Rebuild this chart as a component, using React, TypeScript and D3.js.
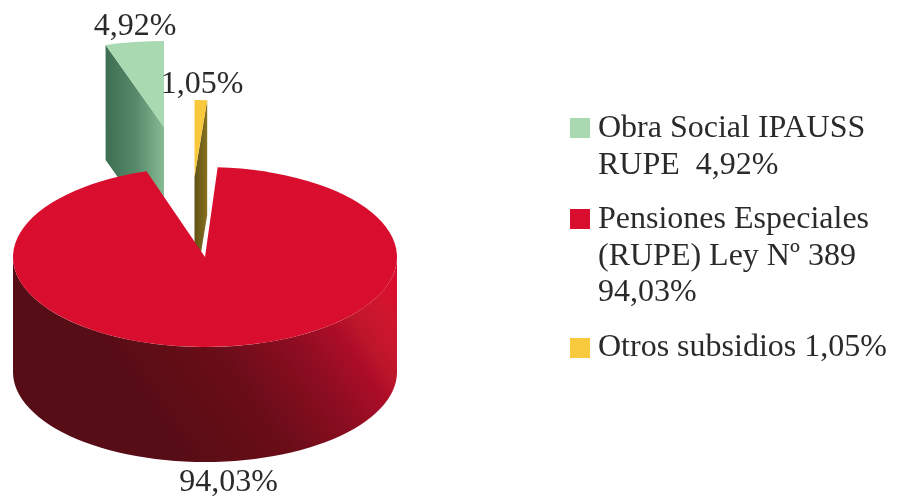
import React from "react";
import * as d3 from "d3";

const categories = ["Obra Social IPAUSS RUPE", "Pensiones Especiales (RUPE) Ley Nº 389", "Otros subsidios"];
const values = [4.92, 94.03, 1.05];
const valueLabels = ["4,92%", "94,03%", "1,05%"];
const legendLines = [
  ["Obra Social IPAUSS", "RUPE  4,92%"],
  ["Pensiones Especiales", "(RUPE) Ley Nº 389", "94,03%"],
  ["Otros subsidios 1,05%"],
];
const topColors = ["#a9d9b1", "#d9112f", "#f9c93e"];

const W = 899, H = 497;
const R = 192, RY = 90, DEPTH = 115;
const CX = 205, CY = 257;
const FONT = "'Liberation Serif', 'Times New Roman', serif";

const rad = (d: number) => (d * Math.PI) / 180;
const pie = d3.pie<number>().sort(null).startAngle(0).endAngle(-2 * Math.PI);
const slices = pie(values);
const arc = d3.arc<any>().innerRadius(0).outerRadius(R);
const yScale = (ry: number) => d3.scaleLinear().domain([-R, R]).range([-ry, ry]);

function arcPath(a0: number, a1: number, cx: number, cy: number, ry: number) {
  const s = yScale(ry);
  const n = 60;
  const pts = d3.range(n + 1).map((i) => {
    const a = a0 + ((a1 - a0) * i) / n;
    return [cx + R * Math.sin(a), cy + s(-R * Math.cos(a))] as [number, number];
  });
  return pts;
}

export default function App() {
  const line = d3.line();
  const [green, red, yellow] = slices;

  const gCx = 164, gCy = 127, gRy = 86;
  const gArc = arcPath(green.startAngle, green.endAngle, gCx, gCy, gRy);
  const gLeft = gArc[gArc.length - 1];
  const gSide: [number, number][] = [
    gLeft, [gCx, gCy], [gCx, gCy + DEPTH], [gLeft[0], gLeft[1] + DEPTH],
  ];

  const yCx = 194.5, yCy = 177, yRy = 77;
  const yStart = yellow.endAngle + 2 * Math.PI;
  const yEnd = yellow.startAngle + 2 * Math.PI;
  const yArc = arcPath(yStart, yEnd, yCx, yCy, yRy);
  const yRight = yArc[yArc.length - 1];
  const ySide: [number, number][] = [
    yRight, [yCx, yCy], [yCx, yCy + DEPTH], [yRight[0], yRight[1] + DEPTH],
  ];

  const frontTop = arcPath(rad(90), rad(270), CX, CY, RY);
  const frontBottom = arcPath(rad(90), rad(270), CX, CY + DEPTH, RY).reverse();
  const redSide = line([...frontTop, ...frontBottom]) + "Z";

  return (
    <svg width={W} height={H} viewBox={`0 0 ${W} ${H}`}
      style={{ position: "absolute", left: 0, top: 0, background: "#fff" }}>
      <defs>
        <filter id="soft" x="-5%" y="-5%" width="110%" height="110%">
          <feGaussianBlur stdDeviation="0.55" />
        </filter>
        <linearGradient id="gs" gradientUnits="userSpaceOnUse" x1={107} y1={0} x2={164} y2={0}>
          <stop offset="0" stopColor="#3f6f52" />
          <stop offset="0.5" stopColor="#56896a" />
          <stop offset="1" stopColor="#86bb94" />
        </linearGradient>
        <linearGradient id="ys" gradientUnits="userSpaceOnUse" x1={194} y1={0} x2={207} y2={0}>
          <stop offset="0" stopColor="#5f5015" />
          <stop offset="1" stopColor="#86711f" />
        </linearGradient>
        <linearGradient id="rs" gradientUnits="userSpaceOnUse" x1={170} y1={450} x2={397} y2={290}>
          <stop offset="0" stopColor="#560814" />
          <stop offset="0.35" stopColor="#6a0a19" />
          <stop offset="0.6" stopColor="#8f0e22" />
          <stop offset="0.85" stopColor="#c5132d" />
          <stop offset="1" stopColor="#d9112f" />
        </linearGradient>
      </defs>

      <g filter="url(#soft)">
        <path d={line(gSide) + "Z"} fill="url(#gs)" />
        <path d={arc(green) as string} fill={topColors[0]}
          transform={`translate(${gCx},${gCy}) scale(1,${gRy / R})`} />

        <path d={line(ySide) + "Z"} fill="url(#ys)" />
        <path d={arc({ startAngle: yStart, endAngle: yEnd }) as string} fill={topColors[2]}
          transform={`translate(${yCx},${yCy}) scale(1,${yRy / R})`} />

        <path d={redSide} fill="url(#rs)" />
        <path d={arc(red) as string} fill={topColors[1]}
          transform={`translate(${CX},${CY}) scale(1,${RY / R})`} />

        <g fontFamily={FONT} fontSize={32} fill="#2b2b2b">
          <text x={135} y={35} textAnchor="middle">{valueLabels[0]}</text>
          <text x={228.5} y={491} textAnchor="middle">{valueLabels[1]}</text>
          <text x={202} y={93} textAnchor="middle">{valueLabels[2]}</text>
        </g>

        <g fontFamily={FONT} fontSize={32} fill="#2b2b2b">
          {legendLines.map((lines, i) => {
            const swatchY = [118, 209, 338][i];
            const baseY = [137, 228, 356][i];
            return (
              <g key={categories[i]}>
                <rect x={570} y={swatchY} width={20} height={20} fill={topColors[i]} />
                {lines.map((t, j) => (
                  <text key={j} x={598} y={baseY + j * 36.5} style={{ whiteSpace: "pre" }}>{t}</text>
                ))}
              </g>
            );
          })}
        </g>
      </g>
    </svg>
  );
}
